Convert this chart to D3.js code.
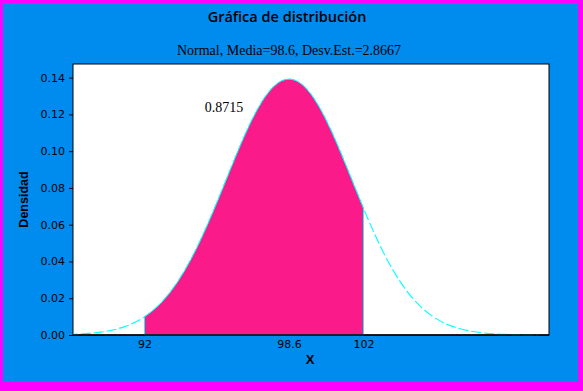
<!DOCTYPE html>
<html>
<head>
<meta charset="utf-8">
<script src="https://cdn.jsdelivr.net/npm/d3@7"></script>
<style>
	body { margin: 0; }
	svg { display: block; }
</style>
</head>
<body>
<svg id="chart" width="583" height="391"></svg>
<script>
// values
var xValues = [88.5, 89, 89.5, 90, 90.5, 91, 91.5, 92, 92.5, 93, 93.5, 94, 94.5, 95, 95.5, 96, 96.5, 97, 97.5, 98, 98.5, 98.6,
	99, 99.5, 100, 100.5, 101, 101.5, 102, 102.5, 103, 103.5, 104, 104.5, 105, 105.5, 106, 106.5, 107, 107.5, 108, 108.5, 109, 109.5, 110];
var densities = [0.00028, 0.00051, 0.00090, 0.00155, 0.00257, 0.00414, 0.00648, 0.00983, 0.01447, 0.02065, 0.02860, 0.03841, 0.05004,
	0.06325, 0.07756, 0.09224, 0.10642, 0.11910, 0.12929, 0.13615, 0.13909, 0.13917,
	0.13782, 0.13248, 0.12352, 0.11173, 0.09803, 0.08343, 0.06888, 0.05516, 0.04285, 0.03230, 0.02361, 0.01674, 0.01152, 0.00768,
	0.00497, 0.00312, 0.00190, 0.00112, 0.00064, 0.00036, 0.00019, 0.00010, 0.00005];
var xTicks = [92, 98.6, 102];
var yTicks = [0, 0.02, 0.04, 0.06, 0.08, 0.10, 0.12, 0.14];
var shadeRange = [92, 102];
var shadeLabel = "0.8715";
var shadeLabelAt = [95.63, 0.1213];
var titleText = "Gráfica de distribución";
var subtitleText = "Normal, Media=98.6, Desv.Est.=2.8667";

var svg = d3.select('#chart'),
	margin = { top: 64, right: 34, bottom: 56, left: 73 },
	width = +svg.attr('width') - margin.left - margin.right,
	height = +svg.attr('height') - margin.top - margin.bottom;

// magenta border and blue panel
svg.append('rect').attr('width', 583).attr('height', 391).attr('fill', '#ff00ff');
svg.append('rect').attr('x', 3).attr('y', 3).attr('width', 575).attr('height', 379).attr('fill', '#008bef');

svg.append('text')
	.attr('x', 287).attr('y', 22)
	.attr('text-anchor', 'middle')
	.style('font-family', '"Open Sans", sans-serif')
	.style('font-size', '14.5px')
	.style('font-weight', 600)
	.text(titleText);
svg.append('text')
	.attr('x', 289).attr('y', 55)
	.attr('text-anchor', 'middle')
	.style('font-family', '"Liberation Serif", serif')
	.style('font-size', '14px')
	.text(subtitleText);

var g = svg.append('g').attr('transform', 'translate(' + margin.left + ',' + margin.top + ')');

var scaleX = d3.scaleLinear().domain([88.74, 110.47]).range([0, width]);
var scaleY = d3.scaleLinear().domain([0, 0.1474]).range([height, 0]);

var points = xValues.map(function (x, i) { return { x: x, y: densities[i] }; });
var shaded = points.filter(function (d) { return d.x >= shadeRange[0] && d.x <= shadeRange[1]; });

g.append('defs').append('clipPath')
	.attr('id', 'clip')
	.append('rect')
	.attr('width', width)
	.attr('height', height + 1);

g.append('rect')
	.attr('width', width)
	.attr('height', height)
	.attr('fill', '#fff')
	.attr('stroke', '#000')
	.attr('stroke-width', 1);

var line = d3.line().curve(d3.curveMonotoneX)
	.x(function (d) { return scaleX(d.x); })
	.y(function (d) { return scaleY(d.y); });
var area = d3.area().curve(d3.curveMonotoneX)
	.x(function (d) { return scaleX(d.x); })
	.y0(scaleY(0))
	.y1(function (d) { return scaleY(d.y); });

var plot = g.append('g').attr('clip-path', 'url(#clip)');

plot.append('path')
	.datum(points)
	.attr('fill', 'none')
	.attr('stroke', '#00ffff')
	.attr('stroke-width', 1.1)
	.attr('stroke-dasharray', '10,3')
	.attr('d', line);

plot.append('path')
	.datum(shaded)
	.attr('fill', '#fa1a8a')
	.attr('stroke', '#00ffff')
	.attr('stroke-width', 1)
	.attr('d', area);

// x axis line
g.append('line')
	.attr('x1', 0).attr('x2', width)
	.attr('y1', height).attr('y2', height)
	.attr('stroke', '#000')
	.attr('stroke-width', 1.5);

var yAxis = g.append('g')
	.call(d3.axisLeft(scaleY).tickValues(yTicks).tickFormat(d3.format('.2f')).tickSize(4).tickPadding(4));
var xAxis = g.append('g')
	.attr('transform', 'translate(0,' + height + ')')
	.call(d3.axisBottom(scaleX).tickValues(xTicks).tickFormat(function (d) { return d; }).tickSize(0).tickPadding(5));

[xAxis, yAxis].forEach(function (a) {
	a.select('.domain').remove();
	a.selectAll('text')
		.attr('fill', '#000')
		.style('font-family', '"DejaVu Sans", sans-serif')
		.style('font-size', '11px');
	a.selectAll('line').attr('stroke', '#000');
});

g.append('text')
	.attr('x', scaleX(shadeLabelAt[0]))
	.attr('y', scaleY(shadeLabelAt[1]))
	.attr('text-anchor', 'middle')
	.style('font-family', '"Liberation Serif", serif')
	.style('font-size', '14px')
	.text(shadeLabel);

g.append('text')
	.attr('x', width / 2 - 1)
	.attr('y', height + 29)
	.attr('text-anchor', 'middle')
	.style('font-family', '"Liberation Sans", sans-serif')
	.style('font-size', '13px')
	.style('font-weight', 'bold')
	.text('X');

g.append('text')
	.attr('transform', 'rotate(-90)')
	.attr('x', -height / 2)
	.attr('y', -45)
	.attr('text-anchor', 'middle')
	.style('font-family', '"Liberation Sans", sans-serif')
	.style('font-size', '12.5px')
	.style('font-weight', 'bold')
	.text('Densidad');
</script>
</body>
</html>
